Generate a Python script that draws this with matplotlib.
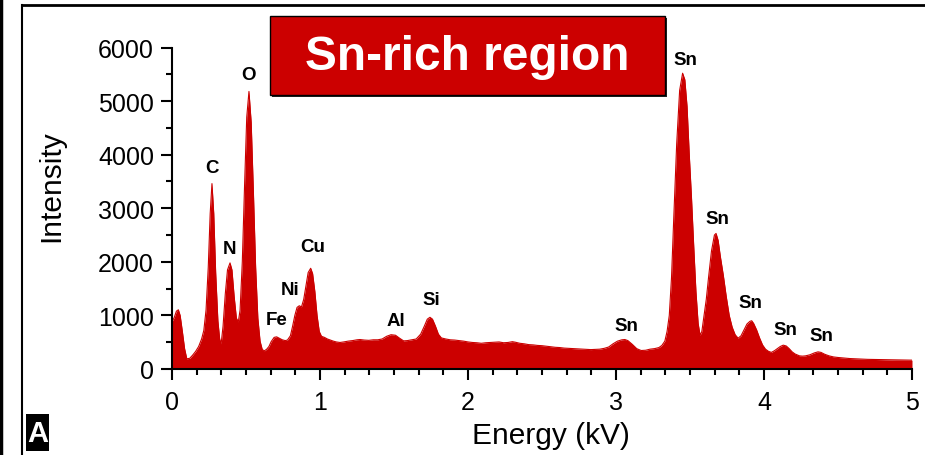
import numpy as np
import matplotlib
matplotlib.use("Agg")
from matplotlib import pyplot as plt
from matplotlib.patches import Rectangle
from matplotlib.lines import Line2D

plt.rcParams['font.family'] = ['Liberation Sans', 'DejaVu Sans']

# EDS spectrum (energy in kV, counts)
energy = [0.000, 0.015, 0.030, 0.043, 0.055, 0.070, 0.085, 0.100, 0.120, 0.140,
          0.160, 0.180, 0.200, 0.215, 0.230, 0.245, 0.258, 0.270, 0.282, 0.295,
          0.310, 0.322, 0.332, 0.345, 0.360, 0.375, 0.392, 0.405, 0.420, 0.435,
          0.448, 0.460, 0.475, 0.490, 0.505, 0.520, 0.535, 0.550, 0.565, 0.580,
          0.595, 0.610, 0.625, 0.640, 0.655, 0.670, 0.690, 0.707, 0.725, 0.745,
          0.765, 0.780, 0.800, 0.815, 0.830, 0.845, 0.860, 0.875, 0.890, 0.905,
          0.920, 0.937, 0.950, 0.965, 0.980, 0.995, 1.010, 1.030, 1.050, 1.070,
          1.090, 1.110, 1.135, 1.160, 1.190, 1.220, 1.250, 1.270, 1.300, 1.330,
          1.360, 1.390, 1.420, 1.450, 1.480, 1.510, 1.540, 1.565, 1.590, 1.620,
          1.650, 1.680, 1.705, 1.725, 1.743, 1.760, 1.780, 1.800, 1.820, 1.850,
          1.880, 1.910, 1.940, 1.970, 2.000, 2.030, 2.060, 2.090, 2.120, 2.150,
          2.180, 2.210, 2.240, 2.270, 2.300, 2.320, 2.350, 2.380, 2.410, 2.440,
          2.470, 2.500, 2.530, 2.560, 2.590, 2.620, 2.650, 2.680, 2.710, 2.740,
          2.770, 2.800, 2.830, 2.860, 2.890, 2.920, 2.950, 2.980, 3.010, 3.040,
          3.060, 3.080, 3.110, 3.140, 3.170, 3.200, 3.230, 3.260, 3.290, 3.310,
          3.330, 3.345, 3.360, 3.375, 3.390, 3.410, 3.430, 3.450, 3.465, 3.480,
          3.495, 3.510, 3.525, 3.540, 3.555, 3.568, 3.580, 3.595, 3.610, 3.625,
          3.645, 3.665, 3.676, 3.690, 3.705, 3.725, 3.745, 3.765, 3.785, 3.805,
          3.825, 3.845, 3.865, 3.885, 3.905, 3.917, 3.930, 3.950, 3.970, 3.990,
          4.010, 4.030, 4.050, 4.070, 4.090, 4.110, 4.130, 4.150, 4.170, 4.190,
          4.210, 4.240, 4.260, 4.280, 4.310, 4.340, 4.365, 4.385, 4.410, 4.440,
          4.470, 4.500, 4.540, 4.580, 4.620, 4.660, 4.700, 4.740, 4.780, 4.820,
          4.860, 4.900, 4.950, 5.000]
counts = [880, 960, 1080, 1105, 1000, 700, 380, 190, 200, 260,
          330, 420, 560, 720, 1100, 1900, 2900, 3460, 2900, 1800,
          900, 560, 470, 800, 1400, 1850, 1980, 1850, 1350, 950,
          880, 1100, 2000, 3400, 4700, 5180, 4600, 3300, 1900, 950,
          520, 360, 340, 370, 420, 510, 590, 600, 575, 545,
          530, 540, 620, 800, 1000, 1150, 1180, 1160, 1300, 1550,
          1800, 1880, 1780, 1450, 1000, 700, 610, 590, 560, 540,
          520, 505, 495, 505, 520, 530, 545, 550, 540, 535,
          545, 545, 560, 610, 640, 630, 570, 525, 530, 545,
          560, 650, 800, 930, 965, 930, 800, 650, 580, 560,
          545, 540, 530, 520, 505, 495, 490, 480, 490, 495,
          500, 505, 490, 495, 510, 500, 480, 470, 455, 450,
          440, 435, 425, 415, 405, 400, 390, 385, 380, 375,
          370, 365, 362, 365, 370, 385, 410, 470, 520, 545,
          550, 530, 460, 380, 345, 350, 370, 380, 400, 440,
          520, 700, 1000, 1700, 2800, 4200, 5200, 5520, 5400, 4900,
          4000, 3200, 2300, 1450, 850, 630, 700, 1000, 1300, 1700,
          2200, 2500, 2530, 2400, 2100, 1750, 1350, 1000, 780, 640,
          575, 620, 730, 840, 890, 900, 850, 730, 580, 450,
          370, 330, 310, 340, 380, 420, 445, 430, 380, 320,
          280, 245, 240, 245, 265, 300, 320, 310, 275, 245,
          225, 215, 205, 195, 190, 185, 180, 178, 175, 172,
          170, 170, 168, 165]

# peak labels
peak_names = ['C', 'N', 'O', 'Fe', 'Ni', 'Cu', 'Al', 'Si',
              'Sn', 'Sn', 'Sn', 'Sn', 'Sn', 'Sn']
peak_x = [0.27, 0.39, 0.52, 0.707, 0.80, 0.95, 1.51, 1.75,
          3.07, 3.466, 3.685, 3.91, 4.147, 4.39]
peak_y = [3769, 2257, 5504, 920, 1493, 2283, 901, 1306,
          821, 5784, 2817, 1244, 746, 622]

red = '#cc0000'

fig = plt.figure(figsize=(9.25, 4.56), dpi=100)
W, H = 925, 456
ax = fig.add_axes([172 / W, 1 - 370 / H, 740 / W, 321.5 / H])

ax.fill_between(energy, counts, 0, color=red, lw=0)
ax.plot(energy, counts, color=red, lw=0.8)

ax.set_xlim(0, 5)
ax.set_ylim(0, 6000)
ax.set_xticks([0, 1, 2, 3, 4, 5])
ax.set_xticks(np.arange(0, 5.01, 1 / 6), minor=True)
ax.set_yticks(np.arange(0, 6001, 1000))
ax.set_yticks(np.arange(0, 6001, 500), minor=True)

for s in ['top', 'right']:
    ax.spines[s].set_visible(False)
for s in ['left', 'bottom']:
    ax.spines[s].set_linewidth(1.5)

ax.tick_params(which='major', direction='out', length=8, width=1.5, labelsize=18)
ax.tick_params(which='minor', direction='out', length=4.5, width=1.5)
ax.tick_params(axis='x', which='major', pad=7)
ax.tick_params(axis='y', which='major', pad=5)

for name, x, y in zip(peak_names, peak_x, peak_y):
    ax.text(x, y, name, ha='center', va='center', fontsize=13.5, fontweight='bold')

fig.text(51 / W, 1 - 186 / H, 'Intensity', rotation=90, ha='center', va='center', fontsize=21.5)
fig.text(551 / W, 1 - 436 / H, 'Energy (kV)', ha='center', va='center', fontsize=21.5)

# title box with small shadow
fig.patches.append(Rectangle((272 / W, 1 - 98 / H), 395 / W, 79 / H,
                             transform=fig.transFigure, facecolor='#222222', edgecolor='none'))
fig.patches.append(Rectangle((270 / W, 1 - 96 / H), 395 / W, 79 / H,
                             transform=fig.transFigure, facecolor=red, edgecolor='black', lw=1))
fig.text(467 / W, 1 - 57 / H, 'Sn-rich region', ha='center', va='center',
         fontsize=34.5, fontweight='bold', color='white')

# panel frame and neighbouring panel edge
fig.add_artist(Line2D([22 / W, 22 / W], [0, 1 - 5.5 / H], transform=fig.transFigure, color='black', lw=1.5))
fig.add_artist(Line2D([22 / W, 1], [1 - 5.5 / H, 1 - 5.5 / H], transform=fig.transFigure, color='black', lw=2))
fig.add_artist(Line2D([1 / W, 1 / W], [0, 1], transform=fig.transFigure, color='black', lw=2.5))

# panel letter
fig.patches.append(Rectangle((26 / W, 1 - 452 / H), 23 / W, 37 / H,
                             transform=fig.transFigure, facecolor='black', edgecolor='none'))
fig.text(37.5 / W, 1 - 434 / H, 'A', ha='center', va='center', fontsize=21,
         fontweight='bold', color='white')

fig.savefig('out.png', dpi=100)
